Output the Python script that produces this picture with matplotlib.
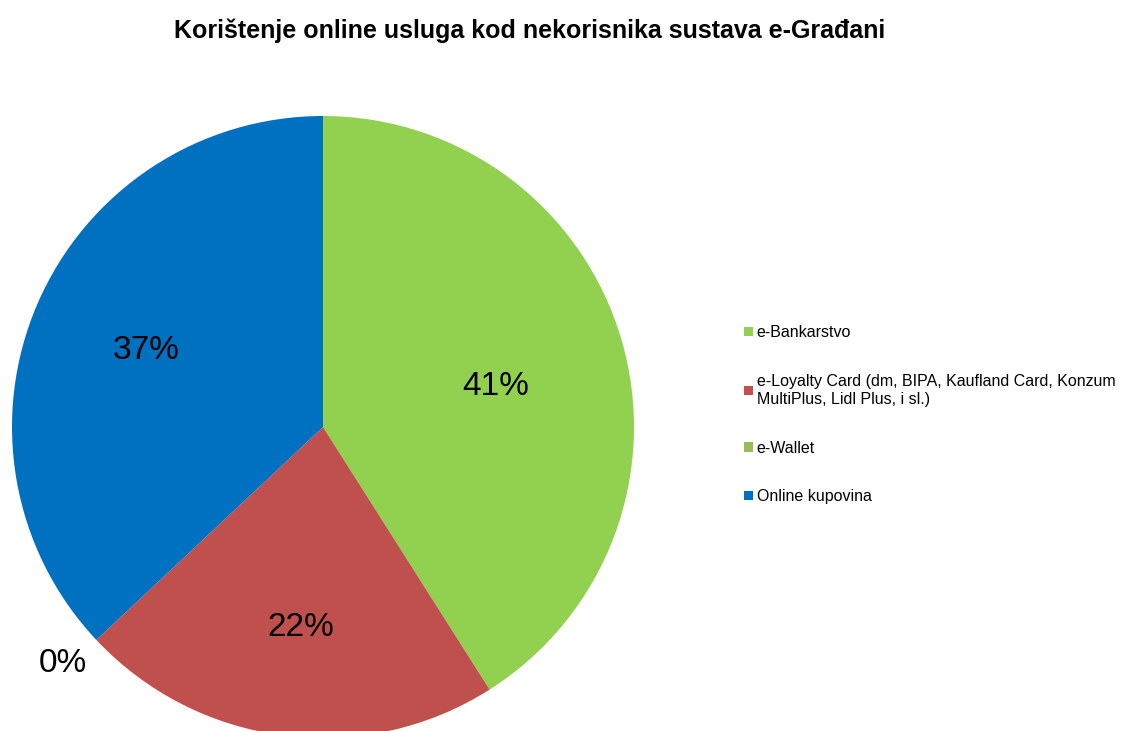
import numpy as np
import matplotlib
matplotlib.use("Agg")
import matplotlib.pyplot as plt

# Data
categories = ["e-Bankarstvo",
              "e-Loyalty Card (dm, BIPA, Kaufland Card, Konzum\nMultiPlus, Lidl Plus, i sl.)",
              "e-Wallet",
              "Online kupovina"]
shares = [41, 22, 0, 37]
colors = ["#92D050", "#C0504D", "#9BBB59", "#0070C0"]

plt.rcParams['font.family'] = ['Liberation Sans', 'DejaVu Sans']

fig = plt.figure(figsize=(11.28, 7.31), dpi=100)
R = 311
cx, cy = 323, 427
ax = fig.add_axes([(cx - R) / 1128, (731 - cy - R) / 731, 2 * R / 1128, 2 * R / 731])

wedges, texts, autotexts = ax.pie(shares, colors=colors, startangle=90, counterclock=False,
                                  autopct=lambda p: f"{p:.0f}%", pctdistance=0.6,
                                  wedgeprops=dict(linewidth=0),
                                  textprops=dict(fontsize=24, color="black"))
ax.set_xlim(-1, 1)
ax.set_ylim(-1, 1)
ax.set_aspect("auto")

# label placement similar to the reference (angle offset, radius)
label_place = {41: (-3, 0.57), 22: (1, 0.65), 0: (-1, 1.13), 37: (0, 0.62)}
for w, t, s in zip(wedges, autotexts, shares):
    dang, r = label_place[s]
    ang = np.deg2rad((w.theta1 + w.theta2) / 2 + dang)
    t.set_position((r * np.cos(ang), r * np.sin(ang)))
    t.set_clip_on(False)

leg = fig.legend(wedges, categories, loc="upper left", bbox_to_anchor=(736 / 1128, 1 - 317 / 731),
                 frameon=False, fontsize=11.5, handlelength=0.55, handleheight=0.55,
                 handletextpad=0.25, labelspacing=2.1, borderpad=0)
for t in leg.get_texts():
    t.set_linespacing(1.3)

fig.text(530 / 1128, 1 - 31 / 731, "Korištenje online usluga kod nekorisnika sustava e-Građani",
         ha="center", va="center", fontsize=18, fontweight="bold")

fig.savefig("out.png", dpi=100)
